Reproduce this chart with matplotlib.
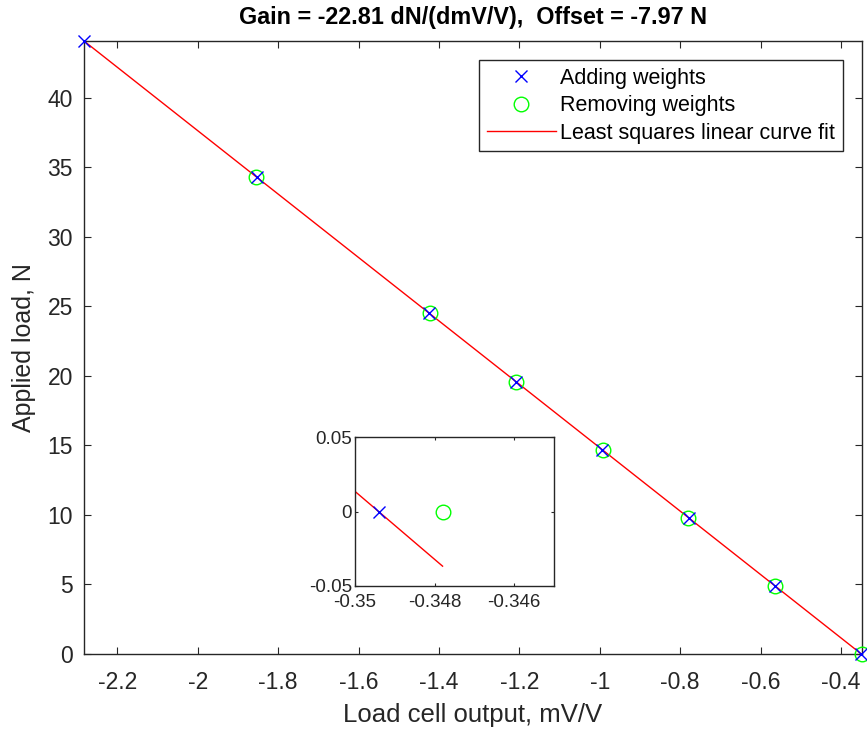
import numpy as np
import matplotlib
matplotlib.use("Agg")
import matplotlib.pyplot as plt

# calibration data (load cell output in mV/V, applied load in N)
add_v = [-0.3494, -0.5642, -0.7790, -0.9939, -1.2087, -1.4235, -1.8531, -2.2828]
add_n = [0.0, 4.9, 9.8, 14.7, 19.6, 24.5, 34.3, 44.1]
rem_v = [-1.8540, -1.4228, -1.2095, -0.9930, -0.7800, -0.5650, -0.3478]
rem_n = [34.3, 24.5, 19.6, 14.7, 9.8, 4.9, 0.0]

gain = -22.81    # dN/(dmV/V)
offset = -7.97   # N

main_xticks = [-2.2, -2.0, -1.8, -1.6, -1.4, -1.2, -1.0, -0.8, -0.6, -0.4]
main_yticks = [0, 5, 10, 15, 20, 25, 30, 35, 40]
inset_xticks = [-0.35, -0.348, -0.346]
inset_yticks = [-0.05, 0, 0.05]

plt.rcParams['font.family'] = ['Liberation Sans', 'DejaVu Sans']
grey = '#262626'
txt = '#262626'

all_v = np.array(add_v + rem_v)
fit_v = np.array([all_v.min(), all_v.max()])
fit_n = gain*fit_v + offset


def draw(ax, clip):
    ax.plot(add_v, add_n, 'x', color=(0, 0, 1), ms=8, mew=1.0, clip_on=clip,
            label='Adding weights', zorder=4)
    ax.plot(rem_v, rem_n, 'o', color=(0, 1, 0), mfc='none', ms=10.5, mew=1.0,
            clip_on=clip, label='Removing weights', zorder=3)
    ax.plot(fit_v, fit_n, '-', color=(1, 0, 0), lw=1.0,
            label='Least squares linear curve fit', zorder=2)


def style(ax, size, ticklen):
    for s in ax.spines.values():
        s.set_color(grey)
        s.set_linewidth(1.0)
    ax.tick_params(direction='in', top=True, right=True, length=ticklen,
                   width=0.8, color=grey, labelcolor=txt, labelsize=size)
    fmt = matplotlib.ticker.FuncFormatter(lambda v, p: '%g' % round(v, 6))
    ax.xaxis.set_major_formatter(fmt)
    ax.yaxis.set_major_formatter(fmt)


fig = plt.figure(figsize=(8.67, 7.33), dpi=100)
ax = fig.add_axes([84/867, 1 - 654/733, (862-84)/867, (654-41)/733])
draw(ax, False)
ax.set_xlim(all_v.min(), all_v.max())
ax.set_ylim(0, max(add_n))
ax.set_xticks(main_xticks)
ax.set_yticks(main_yticks)
style(ax, 16.5, 5)
ax.tick_params(axis='x', pad=12)
ax.tick_params(axis='y', pad=8)
ax.set_xlabel('Load cell output, mV/V', fontsize=18.5, color=txt, labelpad=7)
ax.set_ylabel('Applied load, N', fontsize=18, color=txt, labelpad=8)
ax.set_title('Gain = %.2f dN/(dmV/V),  Offset = %.2f N' % (gain, offset),
             fontsize=16.8, fontweight='bold', color='black', pad=12)
leg = ax.legend(loc='upper right', fontsize=15.5, frameon=True, fancybox=False,
                edgecolor=grey, framealpha=1, borderpad=0.35, labelspacing=0.3,
                handlelength=3.2, handletextpad=0.2, borderaxespad=0.9)
leg.get_frame().set_linewidth(1.0)
for t in leg.get_texts():
    t.set_color('black')

ins = fig.add_axes([355/867, 1 - 586/733, 199/867, 149/733])
draw(ins, True)
ins.set_xlim(-0.35, -0.345)
ins.set_ylim(-0.05, 0.05)
ins.set_xticks(inset_xticks)
ins.set_yticks(inset_yticks)
style(ins, 13.5, 2)
ins.tick_params(axis='x', pad=6)
ins.tick_params(axis='y', pad=2)

fig.savefig('out.png', dpi=100)
